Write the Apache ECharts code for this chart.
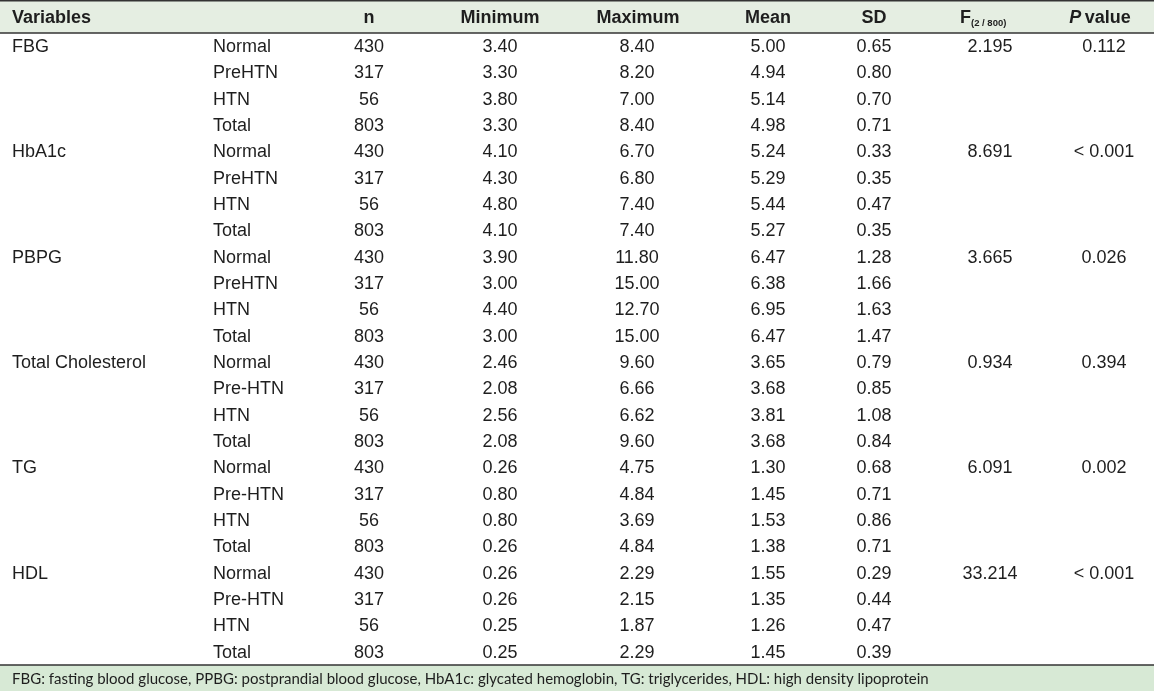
<!DOCTYPE html>
<html>
<head>
<meta charset="utf-8">
<script src="https://cdn.jsdelivr.net/npm/echarts@6/dist/echarts.min.js"></script>
<style>html,body{margin:0;padding:0;background:#fff;}#c{width:1154px;height:691px;}</style>
</head>
<body>
<div id="c"></div>
<script>
// ---- data ----
const variables = ['FBG', 'HbA1c', 'PBPG', 'Total Cholesterol', 'TG', 'HDL'];
const groups = [
  ['Normal', 'PreHTN', 'HTN', 'Total'],
  ['Normal', 'PreHTN', 'HTN', 'Total'],
  ['Normal', 'PreHTN', 'HTN', 'Total'],
  ['Normal', 'Pre-HTN', 'HTN', 'Total'],
  ['Normal', 'Pre-HTN', 'HTN', 'Total'],
  ['Normal', 'Pre-HTN', 'HTN', 'Total']
];
const nValues = [430, 317, 56, 803];
const minimum = [
  [3.40, 3.30, 3.80, 3.30],
  [4.10, 4.30, 4.80, 4.10],
  [3.90, 3.00, 4.40, 3.00],
  [2.46, 2.08, 2.56, 2.08],
  [0.26, 0.80, 0.80, 0.26],
  [0.26, 0.26, 0.25, 0.25]
];
const maximum = [
  [8.40, 8.20, 7.00, 8.40],
  [6.70, 6.80, 7.40, 7.40],
  [11.80, 15.00, 12.70, 15.00],
  [9.60, 6.66, 6.62, 9.60],
  [4.75, 4.84, 3.69, 4.84],
  [2.29, 2.15, 1.87, 2.29]
];
const mean = [
  [5.00, 4.94, 5.14, 4.98],
  [5.24, 5.29, 5.44, 5.27],
  [6.47, 6.38, 6.95, 6.47],
  [3.65, 3.68, 3.81, 3.68],
  [1.30, 1.45, 1.53, 1.38],
  [1.55, 1.35, 1.26, 1.45]
];
const sd = [
  [0.65, 0.80, 0.70, 0.71],
  [0.33, 0.35, 0.47, 0.35],
  [1.28, 1.66, 1.63, 1.47],
  [0.79, 0.85, 1.08, 0.84],
  [0.68, 0.71, 0.86, 0.71],
  [0.29, 0.44, 0.47, 0.39]
];
const fValues = [2.195, 8.691, 3.665, 0.934, 6.091, 33.214];
const pValues = ['0.112', '< 0.001', '0.026', '0.394', '0.002', '< 0.001'];
const headers = ['Variables', 'n', 'Minimum', 'Maximum', 'Mean', 'SD', 'F', 'P value'];
const footnote = 'FBG: fasting blood glucose, PPBG: postprandial blood glucose, HbA1c: glycated hemoglobin, TG: triglycerides, HDL: high density lipoprotein';

// ---- layout ----
const W = 1154, H = 691;
const headTop = 1, headBottom = 33, footTop = 665;
const FONT = '"Liberation Sans", Arial, sans-serif';
const FS = 18;
const TXT = '#1e1e1e';
const colX = { variable: 12, group: 213, n: 369, min: 500, max: 637, mean: 768, sd: 874, f: 990, p: 1104 };

const nRows = variables.length * 4;
const rowCats = Array.from({ length: nRows }, (_, i) => 'r' + i);

function colSeries(name, x, align, getter) {
  const data = [];
  variables.forEach((v, vi) => {
    for (let g = 0; g < 4; g++) {
      const t = getter(vi, g);
      if (t === null || t === undefined) continue;
      data.push({ value: [x, vi * 4 + g], label: { formatter: String(t) } });
    }
  });
  return {
    type: 'scatter', name, symbolSize: 0, silent: true, data,
    itemStyle: { opacity: 1 },
    label: { show: true, position: 'inside', align, verticalAlign: 'middle', offset: [0, 1],
      color: TXT, fontFamily: FONT, fontSize: FS }
  };
}

const series = [
  colSeries('variable', colX.variable, 'left', (vi, g) => g === 0 ? variables[vi] : null),
  colSeries('group', colX.group, 'left', (vi, g) => groups[vi][g]),
  colSeries('n', colX.n, 'center', (vi, g) => nValues[g]),
  colSeries('min', colX.min, 'center', (vi, g) => minimum[vi][g].toFixed(2)),
  colSeries('max', colX.max, 'center', (vi, g) => maximum[vi][g].toFixed(2)),
  colSeries('mean', colX.mean, 'center', (vi, g) => mean[vi][g].toFixed(2)),
  colSeries('sd', colX.sd, 'center', (vi, g) => sd[vi][g].toFixed(2)),
  colSeries('f', colX.f, 'center', (vi, g) => g === 0 ? fValues[vi].toFixed(3) : null),
  colSeries('p', colX.p, 'center', (vi, g) => g === 0 ? pValues[vi] : null)
];

const headStyle = { fill: TXT, font: 'bold ' + FS + 'px ' + FONT, textVerticalAlign: 'middle' };
const headY = (headTop + headBottom) / 2 + 1;
const graphic = [
  { type: 'rect', shape: { x: 0, y: headTop, width: W, height: headBottom - headTop }, style: { fill: '#e5eee2' }, z: -1 },
  { type: 'rect', shape: { x: 0, y: footTop, width: W, height: H - footTop }, style: { fill: '#d7e9d5' }, z: -1 },
  { type: 'line', shape: { x1: 0, y1: 0.75, x2: W, y2: 0.75 }, style: { stroke: '#333', lineWidth: 1.5 } },
  { type: 'line', shape: { x1: 0, y1: headBottom, x2: W, y2: headBottom }, style: { stroke: '#333', lineWidth: 1.5 } },
  { type: 'line', shape: { x1: 0, y1: footTop, x2: W, y2: footTop }, style: { stroke: '#333', lineWidth: 1.5 } },
  { type: 'text', x: colX.variable, y: headY, style: Object.assign({ text: headers[0], textAlign: 'left' }, headStyle) },
  { type: 'text', x: colX.n, y: headY, style: Object.assign({ text: headers[1], textAlign: 'center' }, headStyle) },
  { type: 'text', x: colX.min, y: headY, style: Object.assign({ text: headers[2], textAlign: 'center' }, headStyle) },
  { type: 'text', x: colX.max + 1, y: headY, style: Object.assign({ text: headers[3], textAlign: 'center' }, headStyle) },
  { type: 'text', x: colX.mean, y: headY, style: Object.assign({ text: headers[4], textAlign: 'center' }, headStyle) },
  { type: 'text', x: colX.sd, y: headY, style: Object.assign({ text: headers[5], textAlign: 'center' }, headStyle) },
  { type: 'text', x: 960, y: headY, style: {
      text: '{f|' + headers[6] + '}{s|(2 / 800)}', textAlign: 'left', textVerticalAlign: 'middle',
      rich: {
        f: { fontFamily: FONT, fontWeight: 'bold', fontSize: FS, fill: TXT, color: TXT },
        s: { fontFamily: FONT, fontWeight: 'bold', fontSize: 9.5, fill: TXT, color: TXT, padding: [11, 0, 0, 0] }
      } } },
  { type: 'text', x: 1100, y: headY, style: {
      text: '{i|P} {b|value}', textAlign: 'center', textVerticalAlign: 'middle',
      rich: {
        i: { fontFamily: FONT, fontWeight: 'bold', fontStyle: 'italic', fontSize: FS, fill: TXT, color: TXT },
        b: { fontFamily: FONT, fontWeight: 'bold', fontSize: FS, fill: TXT, color: TXT }
      } } },
  { type: 'text', x: 12, y: (footTop + H) / 2 + 1, style: { text: footnote, fill: TXT, font: '15px Lato, sans-serif', textVerticalAlign: 'middle', textAlign: 'left' } }
];

const chart = echarts.init(document.getElementById('c'), null, { renderer: 'canvas' });
chart.setOption({
  animation: false,
  backgroundColor: '#ffffff',
  grid: { left: 0, right: 0, top: headBottom, bottom: H - footTop },
  xAxis: { type: 'value', min: 0, max: W, show: false },
  yAxis: { type: 'category', data: rowCats, inverse: true, show: false, boundaryGap: true },
  graphic,
  series
});
</script>
</body>
</html>
